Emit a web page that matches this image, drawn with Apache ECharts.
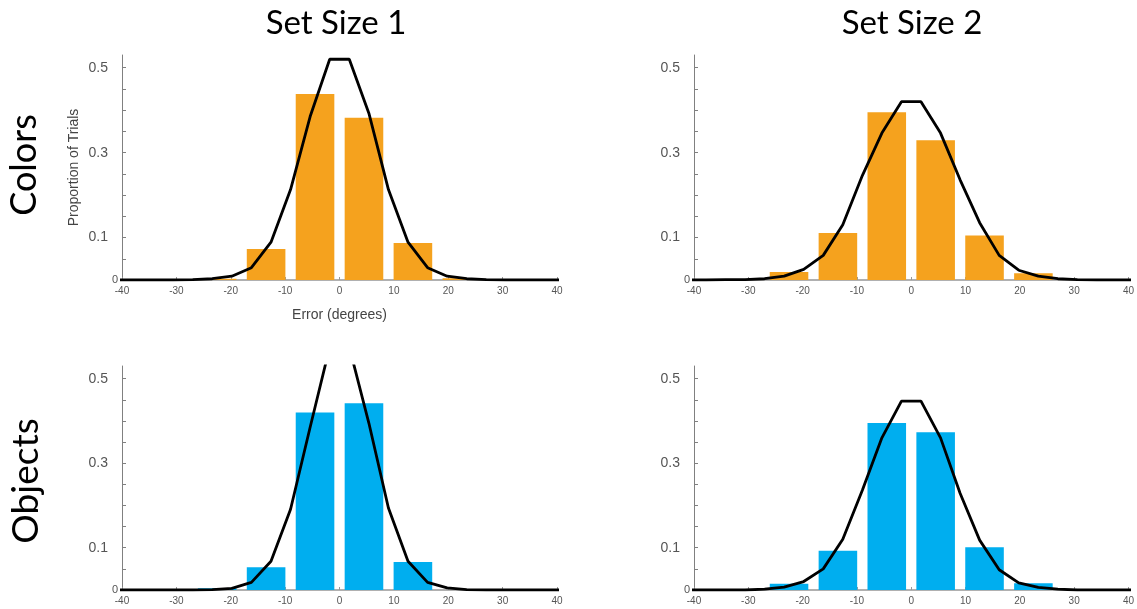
<!DOCTYPE html>
<html>
<head>
<meta charset="utf-8">
<script src="https://cdn.jsdelivr.net/npm/echarts@6/dist/echarts.min.js"></script>
<style>
  html, body { margin: 0; padding: 0; background: #fff; }
  #chart { width: 1137px; height: 609px; }
</style>
</head>
<body>
<div id="chart"></div>
<script>
// ---- Data ----
const columnTitles = ['Set Size 1', 'Set Size 2'];
const rowTitles = ['Colors', 'Objects'];

// histogram bin centres (degrees)
const binCenters = [-31.5, -22.5, -13.5, -4.5, 4.5, 13.5, 22.5, 31.5];
const colorsSS1Bars = [0, 0.003, 0.073, 0.438, 0.382, 0.087, 0.004, 0];
const colorsSS2Bars = [0.002, 0.019, 0.111, 0.395, 0.329, 0.105, 0.016, 0.001];
const objectsSS1Bars = [0, 0.004, 0.054, 0.420, 0.442, 0.066, 0, 0];
const objectsSS2Bars = [0, 0.015, 0.093, 0.395, 0.373, 0.101, 0.016, 0];

// model curve sample points (degrees)
const curveX = [-41.4, -37.8, -34.2, -30.6, -27, -23.4, -19.8, -16.2, -12.6, -9, -5.4, -1.8,
                1.8, 5.4, 9, 12.6, 16.2, 19.8, 23.4, 27, 30.6, 34.2, 37.8, 41.4];
const colorsSS1Curve = [0, 0, 0, 0, 0.001, 0.003, 0.009, 0.029, 0.089, 0.213, 0.385, 0.520,
                        0.520, 0.393, 0.213, 0.089, 0.029, 0.009, 0.003, 0.001, 0, 0, 0, 0];
const colorsSS2Curve = [0, 0, 0.001, 0.001, 0.003, 0.009, 0.025, 0.058, 0.130, 0.246, 0.346, 0.420,
                        0.420, 0.346, 0.236, 0.135, 0.058, 0.023, 0.009, 0.003, 0.001, 0, 0, 0];
const objectsSS1Curve = [0, 0, 0, 0, 0, 0.001, 0.004, 0.018, 0.068, 0.191, 0.385, 0.575,
                         0.575, 0.395, 0.194, 0.068, 0.018, 0.005, 0.001, 0, 0, 0, 0, 0];
const objectsSS2Curve = [0, 0, 0, 0, 0.002, 0.007, 0.020, 0.050, 0.120, 0.236, 0.360, 0.447,
                         0.447, 0.360, 0.229, 0.118, 0.048, 0.017, 0.006, 0.002, 0, 0, 0, 0];

const yTickValues = [0.05, 0.1, 0.15, 0.2, 0.25, 0.3, 0.35, 0.4, 0.45, 0.5];
const yLabelValues = [0, 0.1, 0.3, 0.5];
const xAxisName = 'Error (degrees)';
const yAxisName = 'Proportion of Trials';

// ---- Build ----
const ORANGE = '#F5A21E';
const BLUE = '#00AEEF';
const BAR_HALF = 3.55; // half bar width in degrees
const AXIS_FONT = '"Liberation Sans", Arial, sans-serif';

const panels = [
  { bars: colorsSS1Bars, curve: colorsSS1Curve, color: ORANGE, left: 122, top: 55, height: 225 },
  { bars: colorsSS2Bars, curve: colorsSS2Curve, color: ORANGE, left: 694, top: 55, height: 225 },
  { bars: objectsSS1Bars, curve: objectsSS1Curve, color: BLUE, left: 122, top: 366, height: 224 },
  { bars: objectsSS2Bars, curve: objectsSS2Curve, color: BLUE, left: 694, top: 366, height: 224 }
];

const grids = [], xAxes = [], yAxes = [], series = [];
panels.forEach((p, i) => {
  grids.push({ left: p.left, top: p.top, width: 435, height: p.height, containLabel: false });
  xAxes.push({
    type: 'value', gridIndex: i, min: -40, max: 40, interval: 10,
    axisLine: { show: true, onZero: false, lineStyle: { color: '#b0b0b0', width: 2 } },
    axisTick: { show: true, inside: true, length: 3, lineStyle: { color: '#999', width: 1 } },
    axisLabel: { fontSize: 10, color: '#555', margin: 6, fontFamily: AXIS_FONT },
    splitLine: { show: false },
    name: i === 0 ? xAxisName : '', nameLocation: 'middle', nameGap: 28,
    nameTextStyle: { fontSize: 14, color: '#444', fontFamily: AXIS_FONT }
  });
  yAxes.push({
    type: 'value', gridIndex: i, min: 0, max: 0.53,
    axisLine: { show: true, onZero: false, lineStyle: { color: '#808080', width: 1 } },
    axisTick: { show: true, inside: true, length: 4, customValues: yTickValues, lineStyle: { color: '#808080' } },
    axisLabel: {
      customValues: yLabelValues, margin: 4,
      formatter: v => v === 0 ? '{z|0}' : '{n|' + v + '}',
      rich: {
        n: { fontSize: 14, color: '#555', padding: [0, 10, 0, 0], fontFamily: AXIS_FONT },
        z: { fontSize: 11, color: '#555', fontFamily: AXIS_FONT }
      }
    },
    splitLine: { show: false },
    name: i === 0 ? yAxisName : '', nameLocation: 'middle', nameGap: 41,
    nameTextStyle: { fontSize: 14, color: '#444', fontFamily: AXIS_FONT }
  });
  series.push({
    type: 'custom', xAxisIndex: i, yAxisIndex: i, z: 2,
    itemStyle: { color: p.color },
    encode: { x: 0, y: 1 },
    data: binCenters.map((c, k) => [c, p.bars[k]]),
    renderItem: (params, api) => {
      const c = api.value(0), v = api.value(1);
      const a = api.coord([c - BAR_HALF, v]);
      const b = api.coord([c + BAR_HALF, 0]);
      return { type: 'rect', shape: { x: a[0], y: a[1], width: b[0] - a[0], height: b[1] - a[1] },
               style: { fill: p.color } };
    }
  });
  series.push({
    type: 'line', xAxisIndex: i, yAxisIndex: i, z: 5, clip: true,
    symbol: 'none', smooth: false,
    lineStyle: { color: '#000', width: 2.8 },
    data: curveX.map((x, k) => [x, p.curve[k]])
  });
});

const titleFont = 'Lato, "Open Sans", sans-serif';
const graphic = [
  { type: 'text', x: 336, y: 23, style: { text: columnTitles[0], font: '33px ' + titleFont, fill: '#000', align: 'center', verticalAlign: 'middle' } },
  { type: 'text', x: 912, y: 23, style: { text: columnTitles[1], font: '33px ' + titleFont, fill: '#000', align: 'center', verticalAlign: 'middle' } },
  { type: 'text', x: 24, y: 165, rotation: Math.PI / 2, style: { text: rowTitles[0], font: '36px ' + titleFont, fill: '#000', align: 'center', verticalAlign: 'middle' } },
  { type: 'text', x: 26, y: 481, rotation: Math.PI / 2, style: { text: rowTitles[1], font: '37px ' + titleFont, fill: '#000', align: 'center', verticalAlign: 'middle' } }
];

const chart = echarts.init(document.getElementById('chart'), null, { renderer: 'canvas' });
chart.setOption({
  animation: false,
  backgroundColor: '#fff',
  grid: grids, xAxis: xAxes, yAxis: yAxes, series: series, graphic: graphic
});
</script>
</body>
</html>
